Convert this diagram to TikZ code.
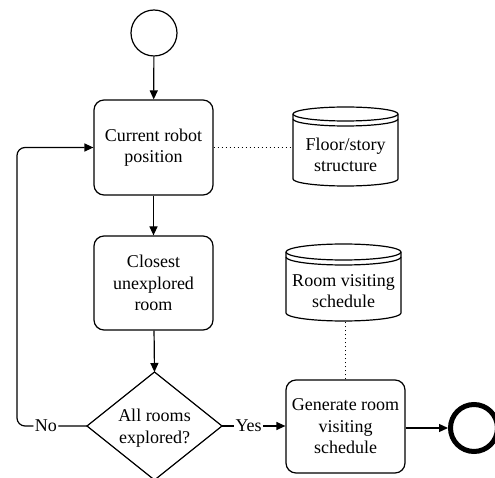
\documentclass[tikz,border=0pt]{standalone}
\usepackage{fontspec}
\setmainfont{Liberation Serif}
\usetikzlibrary{arrows.meta}
\tikzset{
  txt/.style={font=\fontsize{18}{21.5}\selectfont, align=center, inner sep=0pt},
  proc/.style={txt, draw, rounded corners=10pt, minimum width=119pt, minimum height=95pt},
  arr/.style={-{Triangle[length=9pt,width=8pt]}},
  dots/.style={dash pattern=on 1pt off 3pt, line width=1pt},
  lbl/.style={txt, fill=white, inner sep=1.5pt}
}
\begin{document}
\begin{tikzpicture}[x=1pt,y=-1pt, line width=1.2pt]
\useasboundingbox (0,0) rectangle (495,478);

% process nodes
\node[draw, circle, inner sep=0pt, minimum size=46pt] (start) at (154,33) {};
\node[proc] (pos) at (153.5,147.5) {Current robot\\position};
\node[proc, minimum height=94pt] (close) at (153.5,283) {Closest\\unexplored\\room};
\node[proc, minimum height=93pt] (gen) at (345.5,426.5) {Generate room\\visiting\\schedule};
\node[draw, circle, inner sep=0pt, line width=5pt, minimum size=47pt] (end) at (474,428) {};

% decision
\coordinate (decT) at (154.5,372);
\coordinate (decR) at (222,426);
\coordinate (decB) at (154.5,480);
\coordinate (decL) at (87,426);
\draw (decT) -- (decR) -- (decB) -- (decL) -- cycle;
\node[txt] (dec) at (154.5,428) {All rooms\\explored?};

% data store 1
\filldraw[fill=white] (293,114) -- (293,179) arc[start angle=180,end angle=0,x radius=52.5,y radius=7] -- (398,114) arc[start angle=0,end angle=-180,x radius=52.5,y radius=7] -- cycle;
\draw (293,114) arc[start angle=180,end angle=0,x radius=52.5,y radius=7];
\draw (293,119) arc[start angle=180,end angle=0,x radius=52.5,y radius=7];
\node[txt, minimum width=105pt] (floor) at (345.5,155) {Floor/story\\structure};

% data store 2
\filldraw[fill=white] (286,252) -- (286,313) arc[start angle=180,end angle=0,x radius=57.5,y radius=8] -- (401,252) arc[start angle=0,end angle=-180,x radius=57.5,y radius=8] -- cycle;
\draw (286,252) arc[start angle=180,end angle=0,x radius=57.5,y radius=8];
\draw (286,257) arc[start angle=180,end angle=0,x radius=57.5,y radius=8];
\node[txt] (sched) at (343.5,291) {Room visiting\\schedule};
\coordinate (schedB) at (346,321);

% connectors
\draw[arr] (start) -- (pos);
\draw[arr] (pos) -- (close);
\draw[arr] (close) -- (decT);
\draw[arr, rounded corners=8pt] (decL) -- node[lbl, pos=0.586] {No} (17,426) -- (17,147.5) -- (pos.west);
\draw[arr] (decR) -- node[lbl, pos=0.42] {Yes} (gen.west |- decR);
\draw[arr] (gen.east |- end) -- (end);
\draw[dots] (pos.east) -- (pos.east -| floor.west);
\draw[dots] (gen.north) -- (gen.north |- schedB);
\end{tikzpicture}
\end{document}
